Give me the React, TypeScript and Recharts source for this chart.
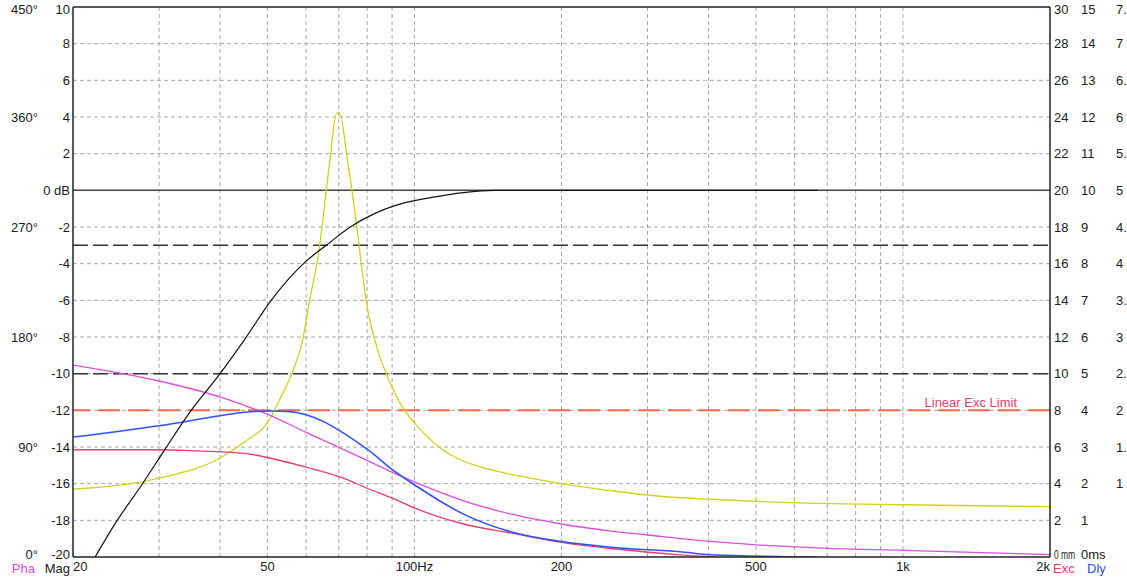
import React from 'react';
import { LineChart, Line, XAxis, YAxis, ReferenceLine } from 'recharts';

const FONT = '"Liberation Sans", Arial, Helvetica, sans-serif';

// ---- axes / ticks ----
const xTicks = [20, 50, 100, 200, 500, 1000, 2000];
const xTickLabels = ['20', '50', '100Hz', '200', '500', '1k', '2k'];
const xGridFreqs = [30, 40, 50, 60, 70, 80, 90, 100, 200, 300, 400, 500, 600, 700, 800, 900, 1000];
const magTicks = [-20, -18, -16, -14, -12, -10, -8, -6, -4, -2, 0, 2, 4, 6, 8, 10];
const magGridLevels = [-18, -16, -14, -12, -10, -8, -6, -4, -2, 2, 4, 6, 8];
const phaTicks = [0, 90, 180, 270, 360, 450];
const excTicks = [0, 2, 4, 6, 8, 10, 12, 14, 16, 18, 20, 22, 24, 26, 28, 30];
const dlyTicks = [0, 1, 2, 3, 4, 5, 6, 7, 8, 9, 10, 11, 12, 13, 14, 15];
const auxTicks = [1, 1.5, 2, 2.5, 3, 3.5, 4, 4.5, 5, 5.5, 6, 6.5, 7, 7.5];

// ---- reference levels ----
const minus3Level = -3;
const minus10Level = -10;
const linearExcLimitMm = 8;

// ---- magnitude (dB) ----
const magFreq = [22.2, 24.5, 27.6, 30.9, 34.7, 40.0, 45.0, 50.9, 59.8, 66.0, 73.9, 82.4, 94.9, 107.8, 126, 146, 300, 670];
const magDb = [-20, -18.1, -16.1, -14.1, -12.1, -10.0, -8.1, -6.0, -3.9, -3.0, -2.0, -1.3, -0.7, -0.4, -0.12, 0, 0, 0];

// ---- impedance (ohm, 0-30 scale) ----
const impFreq = [20, 30, 40, 45, 50.5, 53, 56.3, 59, 61, 63.6, 66, 67.3, 69.3, 70.4, 72.7, 74.5, 76.2, 79.6, 84.3, 88.5, 96, 100.5, 113, 122, 138, 162, 200, 255, 322, 404, 617, 1000, 2000];
const impOhm = [3.7, 4.3, 5.4, 6.3, 7.5, 8.6, 10.1, 11.8, 14.0, 16.5, 20.0, 21.9, 24.2, 24.2, 21.9, 20.0, 18.0, 14.0, 11.2, 9.7, 7.9, 7.25, 5.95, 5.4, 4.87, 4.45, 4.0, 3.6, 3.3, 3.15, 2.95, 2.85, 2.75];

// ---- phase (deg) ----
const phaFreq = [20, 30, 40, 50.5, 60, 71.5, 80, 90.4, 100.5, 126, 158, 200, 255, 300, 410, 500, 700, 1000, 2000];
const phaDeg = [157, 144, 131, 116, 102, 88, 79, 69, 61, 46, 35, 27, 21, 18, 12.5, 10, 7, 5.5, 2];

// ---- excursion (mm) ----
const excFreq = [20, 30, 35, 45, 50.5, 60, 71.5, 80, 90.4, 100.5, 126, 158, 200, 255, 350, 415];
const excMm = [5.85, 5.85, 5.8, 5.65, 5.4, 4.9, 4.3, 3.75, 3.2, 2.65, 1.8, 1.3, 0.8, 0.45, 0.12, 0];

// ---- group delay (ms) ----
const dlyFreq = [20, 30, 40, 45, 50.5, 55, 60, 65, 70, 75, 80, 90.4, 100.5, 126, 158, 200, 255, 350, 404, 670];
const dlyMs = [3.27, 3.58, 3.85, 3.95, 3.98, 3.97, 3.88, 3.7, 3.46, 3.2, 2.94, 2.37, 1.95, 1.17, 0.68, 0.42, 0.26, 0.14, 0.06, 0];

const toPoints = (fs: number[], vs: number[]) => fs.map((f, i) => ({ f, v: vs[i] }));
const magData = toPoints(magFreq, magDb);
const impData = toPoints(impFreq, impOhm);
const phaData = toPoints(phaFreq, phaDeg);
const excData = toPoints(excFreq, excMm);
const dlyData = toPoints(dlyFreq, dlyMs);

const TEXT = '#1a1a1a';
const C_MAG = '#111111';
const C_IMP = '#d4d01c';
const C_PHA = '#e04ce0';
const C_EXC = '#f03c6c';
const C_DLY = '#2f50ff';
const C_GRID = '#a6a6a6';
const C_LIMIT = '#f86848';

// axis ids (sorted order decides stacking: first = nearest to the plot)
const MAG = 'l1mag';
const PHA = 'l2pha';
const EXC = 'r1exc';
const DLY = 'r2dly';
const AUX = 'r3aux';

const makeYTick = (fmt: (v: number) => string, anchor: 'start' | 'end', bottomValue: number) =>
  (props: any) => {
    const { x, y, payload } = props;
    const v = payload.value;
    const shift = v === bottomValue ? -3 : 0;
    return (
      <text x={x} y={y + shift} dy="0.35em" textAnchor={anchor} fontSize={13} fontFamily={FONT} fill={TEXT}>
        {fmt(v)}
      </text>
    );
  };

const excTick = (props: any) => {
  const { x, y, payload } = props;
  const v = payload.value;
  if (v === 0) {
    return (
      <text x={x} y={y - 3} dy="0.35em" textAnchor="start" fontSize={13} fontFamily={FONT} fill={TEXT}
        textLength={21} lengthAdjust="spacingAndGlyphs">
        0 mm
      </text>
    );
  }
  return (
    <text x={x} y={y} dy="0.35em" textAnchor="start" fontSize={13} fontFamily={FONT} fill={TEXT}>
      {String(v)}
    </text>
  );
};

const xTick = (props: any) => {
  const { x, y, payload, index } = props;
  const i = xTicks.indexOf(payload.value);
  const anchor = i === 0 ? 'start' : i === xTicks.length - 1 ? 'end' : 'middle';
  return (
    <text x={x} y={y + 9} dy="0.35em" textAnchor={anchor} fontSize={13} fontFamily={FONT} fill={TEXT} key={index}>
      {xTickLabels[i]}
    </text>
  );
};

const cornerLabel = (text: string, color: string, anchor: 'start' | 'end', side: 'left' | 'right', pad: number) =>
  (p: any) => {
    const vb = p.viewBox || {};
    const x = side === 'left' ? vb.x + vb.width - pad : vb.x + pad;
    const y = vb.y + vb.height + 11;
    return (
      <text x={x} y={y} dy="0.35em" textAnchor={anchor} fontSize={13} fontFamily={FONT} fill={color}>
        {text}
      </text>
    );
  };

const limitLabel = (p: any) => {
  const vb = p.viewBox || {};
  return (
    <text x={vb.x + vb.width - 33} y={vb.y - 8} dy="0.35em" textAnchor="end" fontSize={13} fontFamily={FONT} fill="#e8406c">
      Linear Exc Limit
    </text>
  );
};

export default function App() {
  return (
    <div style={{ position: 'absolute', left: 0, top: 0, width: 1127, height: 579, background: '#fff', fontFamily: FONT, overflow: 'hidden' }}>
      <LineChart width={1127} height={579} margin={{ top: 7, right: 0, bottom: 0, left: 0 }}>
        <XAxis
          dataKey="f"
          type="number"
          scale="log"
          domain={[20, 2000]}
          allowDataOverflow
          ticks={xTicks}
          tick={xTick}
          tickLine={false}
          tickSize={0}
          tickMargin={0}
          height={22}
          axisLine={{ stroke: '#222', strokeWidth: 1.5 }}
        />
        <YAxis
          yAxisId={MAG}
          orientation="left"
          domain={[-20, 10]}
          ticks={magTicks}
          allowDataOverflow
          width={33}
          tickLine={false}
          tickSize={0}
          tickMargin={3}
          tick={makeYTick((v) => (v === 0 ? '0 dB' : String(v)), 'end', -20)}
          axisLine={{ stroke: '#222', strokeWidth: 1.5 }}
          label={cornerLabel('Mag', TEXT, 'end', 'left', 3)}
        />
        <YAxis
          yAxisId={PHA}
          orientation="left"
          domain={[0, 450]}
          ticks={phaTicks}
          allowDataOverflow
          width={40}
          tickLine={false}
          tickSize={0}
          tickMargin={2}
          tick={makeYTick((v) => `${v}°`, 'end', 0)}
          axisLine={false}
          label={cornerLabel('Pha', C_PHA, 'end', 'left', 5)}
        />
        <YAxis
          yAxisId={EXC}
          orientation="right"
          domain={[0, 30]}
          ticks={excTicks}
          allowDataOverflow
          width={27}
          tickLine={false}
          tickSize={0}
          tickMargin={4}
          tick={excTick}
          axisLine={{ stroke: '#222', strokeWidth: 1.5 }}
          label={cornerLabel('Exc', C_EXC, 'start', 'right', 3)}
        />
        <YAxis
          yAxisId={DLY}
          orientation="right"
          domain={[0, 15]}
          ticks={dlyTicks}
          allowDataOverflow
          width={35}
          tickLine={false}
          tickSize={0}
          tickMargin={4}
          tick={makeYTick((v) => (v === 0 ? '0ms' : String(v)), 'start', 0)}
          axisLine={false}
          label={cornerLabel('Dly', C_DLY, 'start', 'right', 10)}
        />
        <YAxis
          yAxisId={AUX}
          orientation="right"
          domain={[0, 7.5]}
          ticks={auxTicks}
          allowDataOverflow
          width={15}
          tickLine={false}
          tickSize={0}
          tickMargin={4}
          tick={makeYTick((v) => String(v), 'start', 0)}
          axisLine={false}
        />

        {xGridFreqs.map((f) => (
          <ReferenceLine key={`vx${f}`} yAxisId={MAG} x={f} stroke={C_GRID} strokeDasharray="4 3" strokeWidth={1} />
        ))}
        {magGridLevels.map((l) => (
          <ReferenceLine key={`hy${l}`} yAxisId={MAG} y={l} stroke={C_GRID} strokeDasharray="4 3" strokeWidth={1} />
        ))}
        <ReferenceLine yAxisId={MAG} y={10} stroke="#222" strokeWidth={1.5} />
        <ReferenceLine yAxisId={MAG} y={0} stroke="#444" strokeWidth={1.5} />
        <ReferenceLine yAxisId={MAG} y={minus3Level} stroke="#333" strokeWidth={1.5} strokeDasharray="15 5" />
        <ReferenceLine yAxisId={MAG} y={minus10Level} stroke="#333" strokeWidth={1.5} strokeDasharray="15 5" />
        <ReferenceLine yAxisId={EXC} y={linearExcLimitMm} stroke={C_LIMIT} strokeWidth={2} strokeDasharray="22 8" label={limitLabel} />

        <Line yAxisId={EXC} data={impData} dataKey="v" type="monotone" stroke={C_IMP} strokeWidth={1.3} dot={false} isAnimationActive={false} />
        <Line yAxisId={PHA} data={phaData} dataKey="v" type="monotone" stroke={C_PHA} strokeWidth={1.3} dot={false} isAnimationActive={false} />
        <Line yAxisId={EXC} data={excData} dataKey="v" type="monotone" stroke={C_EXC} strokeWidth={1.3} dot={false} isAnimationActive={false} />
        <Line yAxisId={DLY} data={dlyData} dataKey="v" type="monotone" stroke={C_DLY} strokeWidth={1.5} dot={false} isAnimationActive={false} />
        <Line yAxisId={MAG} data={magData} dataKey="v" type="monotone" stroke={C_MAG} strokeWidth={1.2} dot={false} isAnimationActive={false} />
      </LineChart>
    </div>
  );
}
